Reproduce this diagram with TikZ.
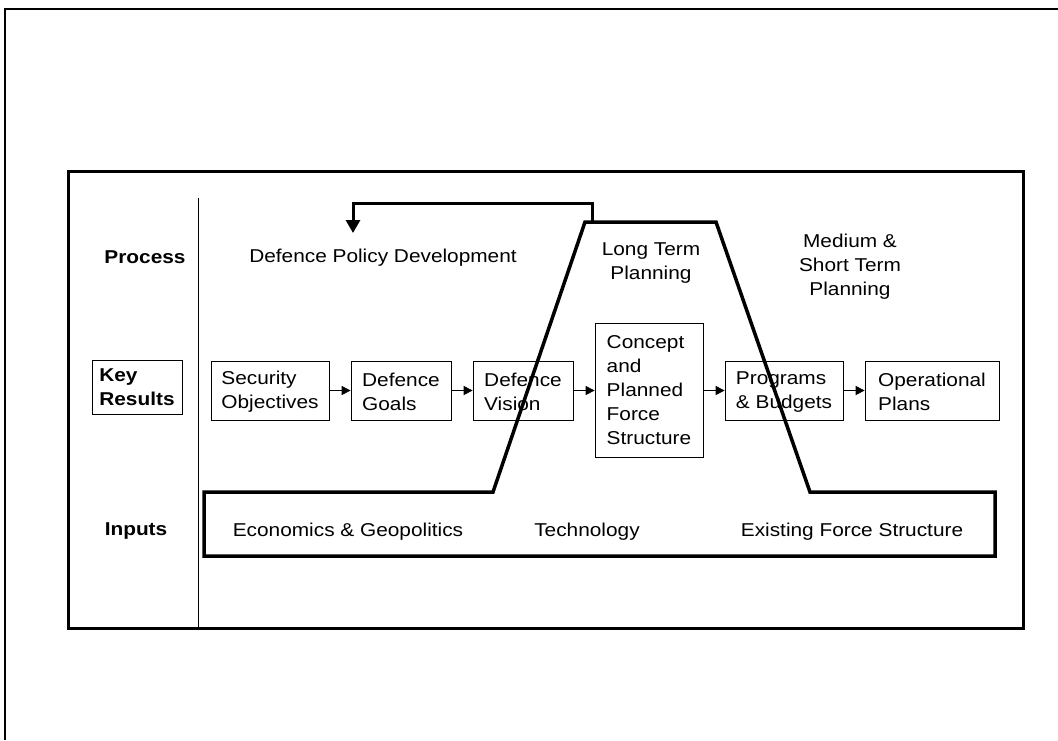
\documentclass[tikz,border=0pt]{standalone}
\usepackage{fontspec}
\setmainfont{Liberation Sans}[FakeStretch=1.12]
\usetikzlibrary{arrows.meta}

\begin{document}
\begin{tikzpicture}[x=1pt, y=-1pt, font=\fontsize{18.6}{24}\selectfont,
	result/.style={draw, line width=0.7pt, align=left, inner sep=0pt, minimum height=59},
	heading/.style={align=center, inner sep=0pt},
	flow/.style={line width=0.7pt, -{Triangle[length=9pt, width=9pt]}},
	back/.style={line width=3pt, -{Triangle[length=13pt, width=14pt]}}]
	\useasboundingbox (0,0) rectangle (1058,740);
	\draw[line width=2pt] (5,740) -- (5,9) -- (1058,9);
	\draw[line width=3pt] (68,171) rectangle (1023,628);
	\draw[line width=0.7pt] (198,198) -- (198,628);

	\node[heading] (process) at (145,257) {\bfseries Process};
	\node[result, minimum width=90, minimum height=54] (keyres) at (137,387) {\bfseries Key\\\bfseries Results};
	\node[heading] (inputs) at (136,531) {\bfseries Inputs};

	\node[heading] (dpd) at (383,258) {Defence Policy Development};
	\node[heading] (ltp) at (651,263) {Long Term\\Planning};
	\node[heading] (mstp) at (850,267) {Medium \&\\Short Term\\Planning};

	\node[result, minimum width=118] (secobj) at (270,390.5) {\strut Security\\Objectives};
	\node[result, minimum width=100] (goals) at (401,390.5) {\strut Defence\\Goals};
	\node[result, minimum width=100] (vision) at (523,390.5) {\strut Defence\\Vision};
	\node[result, minimum width=108, minimum height=134] (concept) at (649,390.5) {Concept\\and\\Planned\\Force\\Structure};
	\node[result, minimum width=118] (programs) at (784,390.5) {\strut Programs\\\& Budgets};
	\node[result, minimum width=134] (opplans) at (932,390.5) {\strut Operational\\Plans};

	\draw[flow] (secobj) -- (goals);
	\draw[flow] (goals) -- (vision);
	\draw[flow] (vision) -- (concept);
	\draw[flow] (concept) -- (programs);
	\draw[flow] (programs) -- (opplans);

	\draw[line width=3.5pt] (204,492) -- (493,492) -- (585,222) -- (716,222) -- (810,492) -- (995,492) -- (995,556) -- (204,556) -- cycle;
	\node[heading] (econ) at (348,532) {Economics \& Geopolitics};
	\node[heading] (tech) at (587,532) {Technology};
	\node[heading] (existing) at (852,532) {Existing Force Structure};

	\coordinate (fbstart) at (592,222);
	\coordinate (fbend) at (353,233);
	\draw[back] (fbstart) -- (592,203) -- (353,203) -- (fbend);
\end{tikzpicture}
\end{document}
